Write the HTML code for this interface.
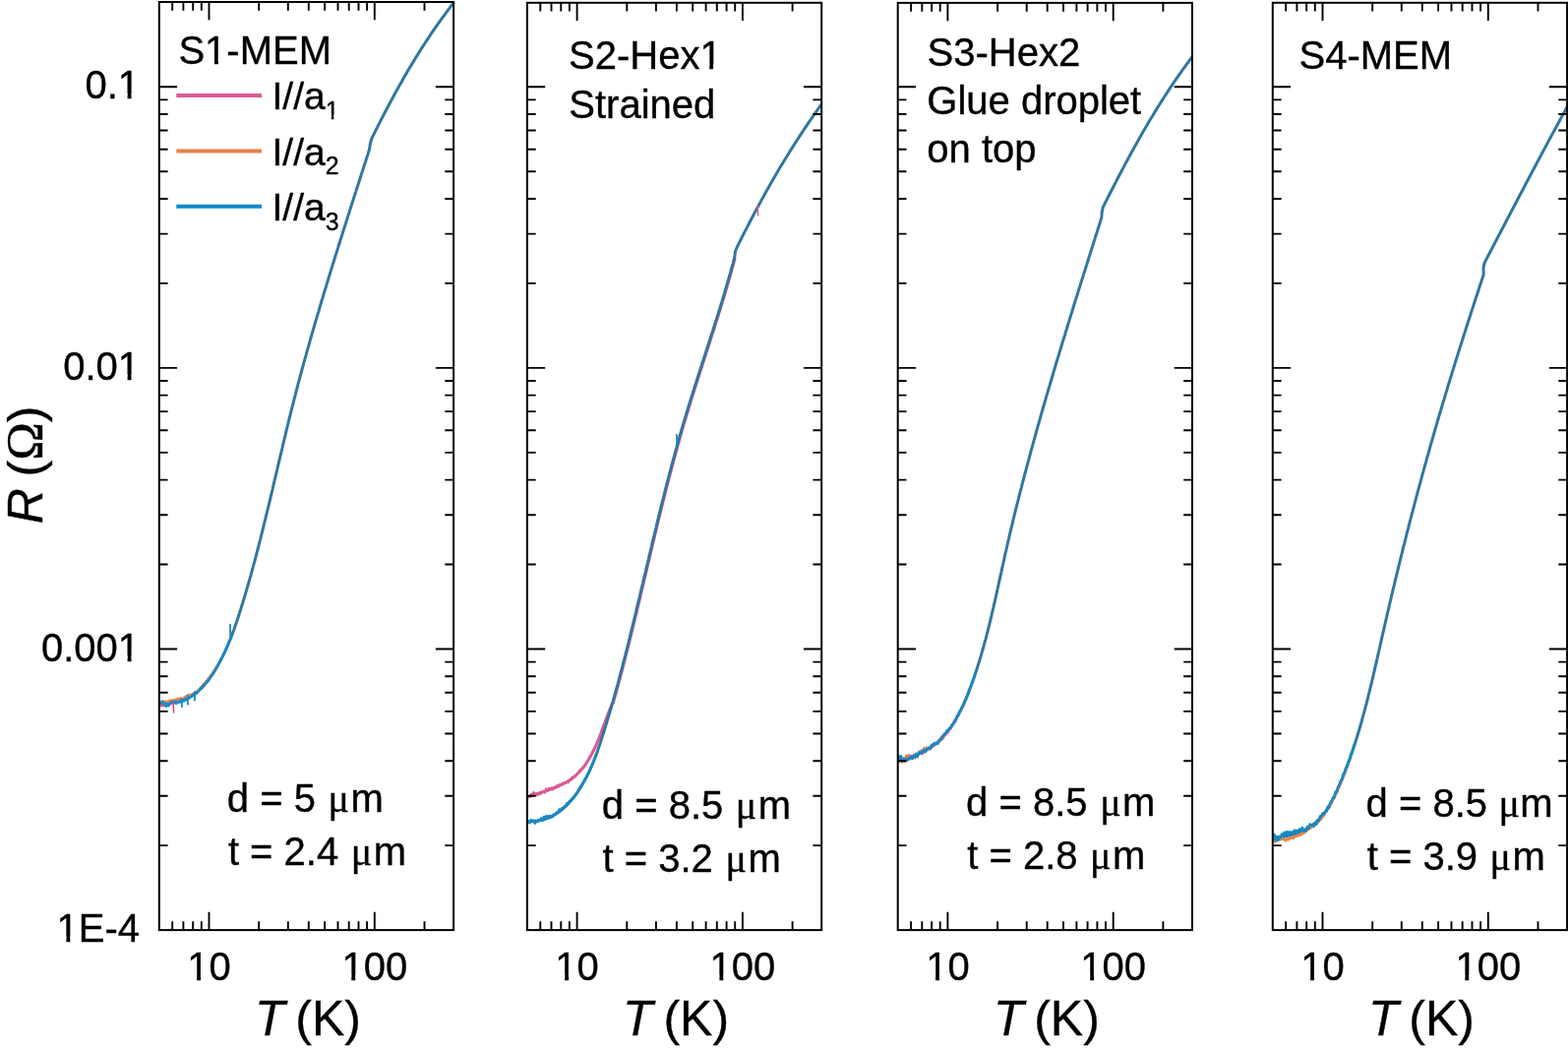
<!DOCTYPE html><html><head><meta charset="utf-8"><style>html,body{margin:0;padding:0;background:#fff;overflow:hidden}svg{display:block}text{font-family:"Liberation Sans",Arial,sans-serif;fill:#000;stroke:#000;stroke-width:0.35px}.sf{font-family:"Liberation Serif","Times New Roman",serif}</style></head><body>
<svg width="1594" height="1069" viewBox="0 0 1594 1069">
<rect width="1594" height="1069" fill="#fff"/>
<defs><clipPath id="c0"><rect x="161.8" y="2.3" width="299.3" height="942.8"/></clipPath><clipPath id="c1"><rect x="535.9" y="2.3" width="299.3" height="942.8"/></clipPath><clipPath id="c2"><rect x="912.7" y="2.3" width="299.3" height="942.8"/></clipPath><clipPath id="c3"><rect x="1293.8" y="2.3" width="299.3" height="942.8"/></clipPath></defs>
<g fill="none" stroke-linejoin="round" stroke-linecap="round">
<g clip-path="url(#c0)">
<path d="M161.7 715.3L164.2 715.3L166.6 715.1L169.2 714.9L171.7 714.7L174.3 714.3L176.8 713.8L179.4 713.3L181.9 712.6L184.3 711.9L186.8 711.0L189.1 710.1L191.4 709.0L193.6 707.9L195.8 706.6L197.8 705.2L199.8 703.7L201.7 702.2L203.5 700.5L205.3 698.8L206.9 697.0L208.6 695.1L210.2 693.2L211.7 691.3L213.2 689.2L214.6 687.2L216.0 685.1L217.3 683.0L218.7 680.9L219.9 678.8L221.2 676.6L222.4 674.4L223.6 672.3L224.8 670.0L225.9 667.8L227.0 665.6L228.1 663.3L229.2 661.1L230.2 658.8L231.2 656.5L232.2 654.2L233.1 651.9L234.1 649.6L235.0 647.2L235.9 644.9L236.8 642.5L237.7 640.2L238.5 637.8L239.3 635.4L240.2 633.0L241.0 630.6L241.8 628.2L242.6 625.8L243.3 623.4L244.1 621.0L244.9 618.6L245.6 616.2L246.4 613.8L247.1 611.4L247.8 609.0L248.6 606.6L249.3 604.1L250.0 601.7L250.7 599.3L251.4 596.9L252.1 594.5L252.8 592.0L253.5 589.6L254.2 587.2L254.9 584.8L255.5 582.3L256.2 579.9L256.9 577.5L257.5 575.1L258.2 572.6L258.9 570.2L259.5 567.8L260.2 565.3L260.8 562.9L261.4 560.5L262.1 558.0L262.7 555.6L263.3 553.2L263.9 550.7L264.6 548.3L265.2 545.9L265.8 543.4L266.4 541.0L267.0 538.5L267.6 536.1L268.2 533.7L268.8 531.2L269.4 528.8L270.0 526.3L270.6 523.9L271.2 521.5L271.8 519.0L272.4 516.6L273.0 514.1L273.6 511.7L274.2 509.2L274.7 506.8L275.3 504.4L275.9 501.9L276.5 499.5L277.1 497.0L277.6 494.6L278.2 492.1L278.8 489.7L279.4 487.2L279.9 484.8L280.5 482.3L281.1 479.9L281.7 477.5L282.2 475.0L282.8 472.6L283.4 470.1L284.0 467.7L284.5 465.2L285.1 462.8L285.7 460.3L286.3 457.9L286.9 455.5L287.4 453.0L288.0 450.6L288.6 448.1L289.2 445.7L289.8 443.2L290.4 440.8L290.9 438.4L291.5 435.9L292.1 433.5L292.7 431.0L293.3 428.6L293.9 426.2L294.5 423.7L295.1 421.3L295.7 418.9L296.3 416.4L297.0 414.0L297.6 411.5L298.2 409.1L298.8 406.7L299.4 404.2L300.1 401.8L300.7 399.4L301.3 396.9L302.0 394.5L302.6 392.1L303.2 389.7L303.9 387.2L304.5 384.8L305.2 382.4L305.8 379.9L306.5 377.5L307.1 375.1L307.8 372.7L308.5 370.2L309.1 367.8L309.8 365.4L310.5 363.0L311.2 360.6L311.8 358.1L312.5 355.7L313.2 353.3L313.9 350.9L314.6 348.5L315.2 346.0L315.9 343.6L316.6 341.2L317.3 338.8L318.0 336.4L318.7 334.0L319.4 331.5L320.1 329.1L320.8 326.7L321.5 324.3L322.2 321.9L322.9 319.5L323.7 317.1L324.4 314.7L325.1 312.2L325.8 309.8L326.5 307.4L327.2 305.0L328.0 302.6L328.7 300.2L329.4 297.8L330.1 295.4L330.9 293.0L331.6 290.6L332.3 288.2L333.1 285.8L333.8 283.4L334.5 281.0L335.3 278.5L336.0 276.1L336.8 273.7L337.5 271.3L338.2 268.9L339.0 266.5L339.7 264.1L340.5 261.7L341.2 259.3L342.0 256.9L342.7 254.5L343.5 252.1L344.2 249.7L345.0 247.3L345.7 244.9L346.5 242.5L347.3 240.1L348.0 237.7L348.8 235.3L349.5 232.9L350.3 230.5L351.1 228.1L351.8 225.8L352.6 223.4L353.3 221.0L354.1 218.6L354.9 216.2L355.6 213.8L356.4 211.4L357.2 209.0L357.9 206.6L358.7 204.2L359.5 201.8L360.2 199.4L361.0 197.0L361.8 194.6L362.5 192.2L363.3 189.8L364.1 187.5L364.8 185.1L365.6 182.7L366.4 180.3L367.1 177.9L367.9 175.5L368.7 173.1L369.5 170.7L370.2 168.3L371.0 165.9L371.8 163.5L372.5 161.2L373.3 158.8L374.1 156.4L374.8 154.0L375.6 151.6L376.4 145.6L378.0 140.5L379.1 138.2L380.3 135.9L381.4 133.7L382.5 131.4L383.7 129.1L384.8 126.8L386.0 124.6L387.1 122.3L388.3 120.0L389.5 117.8L390.6 115.5L391.8 113.3L393.0 111.0L394.2 108.7L395.4 106.5L396.6 104.3L397.8 102.0L399.0 99.8L400.2 97.5L401.4 95.3L402.6 93.1L403.9 90.8L405.1 88.6L406.3 86.4L407.6 84.2L408.9 82.0L410.1 79.7L411.4 77.5L412.7 75.3L413.9 73.1L415.2 70.9L416.5 68.7L417.8 66.6L419.2 64.4L420.5 62.2L421.8 60.0L423.1 57.9L424.5 55.7L425.8 53.5L427.2 51.4L428.5 49.2L429.9 47.1L431.3 45.0L432.7 42.8L434.1 40.7L435.5 38.6L436.9 36.5L438.3 34.3L439.7 32.2L441.2 30.1L442.6 28.0L444.1 26.0L445.5 23.9L447.0 21.8L448.5 19.7L450.0 17.7L451.5 15.6L453.0 13.6L454.5 11.5L456.1 9.5L457.6 7.4L459.1 5.4L460.7 3.4" stroke="#32769c" stroke-width="3.0"/>
<path d="M161.0 713.4L162.3 712.6L163.6 713.6L164.9 712.2L166.2 714.0L167.5 712.2L168.8 713.5L170.1 712.7L171.4 713.1L172.7 711.3L174.0 712.6L175.3 711.1L176.6 712.0L177.9 710.7L179.2 711.8L180.5 709.6L181.8 710.4L183.1 709.3L184.4 710.8L185.7 709.5L187.0 709.3L188.3 707.7L189.6 707.9L190.9 706.0L192.2 706.8L193.5 705.4L194.8 706.4L196.1 704.6L197.4 704.4L198.7 703.1L200.0 702.6L201.3 701.1L202.6 700.7L203.9 698.2L205.2 697.3L206.5 695.3L207.8 694.5L209.1 692.6L210.4 691.4L211.7 689.3L213.0 688.0L214.3 685.9L215.6 684.3L216.9 682.1L218.2 680.6L219.5 678.1L220.8 676.4" stroke="#e8804a" stroke-width="2.2"/>
<path d="M161.0 716.6L162.3 715.7L163.6 717.4L164.9 716.6L166.2 717.7L167.5 715.6L168.8 717.2L170.1 715.5L171.4 716.3L172.7 715.0L174.0 715.5L175.3 714.6L176.6 715.0L177.9 714.4L179.2 714.7L180.5 713.3L181.8 713.9L183.1 712.6L184.4 713.0L185.7 712.0L187.0 712.0L188.3 710.8L189.6 711.1L190.9 709.8L192.2 709.3L193.5 708.1L194.8 707.7L196.1 706.6L197.4 706.2L198.7 705.0" stroke="#dc5a96" stroke-width="2.0"/>
<path d="M161.0 714.9L162.3 713.7L163.6 714.8L164.9 712.7L166.2 715.3L167.5 714.4L168.8 717.9L170.1 715.0L171.4 717.3L172.7 713.9L174.0 714.2L175.3 712.9L176.6 713.8L177.9 712.8L179.2 715.0L180.5 713.2L181.8 713.6L183.1 712.7L184.4 713.9L185.7 711.1L187.0 712.6L188.3 710.3L189.6 711.4L190.9 709.4L192.2 709.7L193.5 708.2L194.8 707.7L196.1 705.7L197.4 706.6L198.7 704.1L200.0 704.6L201.3 702.7L202.6 701.3L203.9 699.5L205.2 698.6L206.5 696.5L207.8 696.3L209.1 693.6L210.4 693.1L211.7 691.1L213.0 689.8L214.3 687.1L215.6 686.3L216.9 683.9L218.2 682.4L219.5 679.5L220.8 678.0L222.1 674.9L223.4 673.0L224.7 670.0L226.0 667.8L227.3 664.8L228.6 662.6L229.9 659.0L231.2 656.5L232.5 653.0L233.8 650.3L235.1 646.7" stroke="#1689c6" stroke-width="2.4"/>
<path d="M234.2 646.5L234.0 634.6" stroke="#1689c6" stroke-width="1.8"/>
<path d="M176.2 714L176.6 724" stroke="#d0508a" stroke-width="1.6"/>
<path d="M184.6 710.5L184.9 718.3M190.6 707L190.9 715.7M197.8 703L198 711.6" stroke="#1689c6" stroke-width="1.8"/>
</g>
<g clip-path="url(#c1)">
<path d="M623.7 714.2L624.4 711.7L625.0 709.3L625.7 706.9L626.4 704.5L627.1 702.0L627.7 699.6L628.4 697.2L629.1 694.8L629.7 692.3L630.4 689.9L631.0 687.5L631.7 685.0L632.3 682.6L633.0 680.2L633.6 677.8L634.2 675.3L634.8 672.9L635.5 670.5L636.1 668.0L636.7 665.6L637.3 663.1L638.0 660.7L638.6 658.3L639.2 655.8L639.8 653.4L640.4 651.0L641.0 648.5L641.6 646.1L642.2 643.6L642.8 641.2L643.4 638.8L644.0 636.3L644.6 633.9L645.2 631.4L645.8 629.0L646.4 626.5L647.0 624.1L647.6 621.6L648.1 619.2L648.7 616.8L649.3 614.3L649.9 611.9L650.5 609.4L651.1 607.0L651.6 604.5L652.2 602.1L652.8 599.6L653.4 597.2L654.0 594.7L654.6 592.3L655.1 589.8L655.7 587.4L656.3 584.9L656.9 582.5L657.5 580.0L658.0 577.6L658.6 575.1L659.2 572.7L659.8 570.2L660.4 567.8L660.9 565.4L661.5 562.9L662.1 560.5L662.7 558.0L663.3 555.6L663.8 553.1L664.4 550.7L665.0 548.2L665.6 545.8L666.2 543.3L666.8 540.9L667.4 538.4L668.0 536.0L668.5 533.5L669.1 531.1L669.7 528.7L670.3 526.2L670.9 523.8L671.5 521.3L672.1 518.9L672.7 516.4L673.3 514.0L673.9 511.6L674.5 509.1L675.2 506.7L675.8 504.2L676.4 501.8L677.0 499.4L677.6 496.9L678.2 494.5L678.9 492.0L679.5 489.6L680.1 487.2L680.8 484.7L681.4 482.3L682.0 479.9L682.7 477.4L683.3 475.0L683.9 472.6L684.6 470.1L685.2 467.7L685.9 465.3L686.6 462.9L687.2 460.4L687.9 458.0L688.6 455.6L689.2 453.2L689.9 450.7L690.6 448.3L691.3 445.9L691.9 443.5L692.6 441.1L693.3 438.7L694.0 436.2L694.7 433.8L695.4 431.4L696.1 429.0L696.9 426.6L697.6 424.2L698.3 421.8L699.0 419.4L699.8 417.0L700.5 414.6L701.2 412.2L702.0 409.8L702.7 407.3L703.5 404.9L704.2 402.5L705.0 400.2L705.7 397.8L706.5 395.4L707.2 393.0L708.0 390.6L708.8 388.2L709.5 385.8L710.3 383.4L711.1 381.0L711.8 378.6L712.6 376.2L713.4 373.8L714.2 371.4L714.9 369.0L715.7 366.6L716.5 364.2L717.3 361.8L718.0 359.4L718.8 357.1L719.6 354.7L720.4 352.3L721.1 349.9L721.9 347.5L722.7 345.1L723.4 342.7L724.2 340.3L725.0 337.9L725.8 335.5L726.5 333.1L727.3 330.7L728.0 328.3L728.8 325.9L729.6 323.5L730.3 321.1L731.1 318.7L731.8 316.3L732.6 313.9L733.3 311.5L734.0 309.1L734.8 306.7L735.5 304.3L736.2 301.9L737.0 299.5L737.7 297.1L738.4 294.7L739.1 292.3L739.8 289.9L740.5 287.5L741.2 285.0L741.9 282.6L742.6 280.2L743.3 277.8L744.0 275.4L744.6 272.9L745.3 270.5L746.0 268.1L746.6 265.7L747.3 263.2" stroke="#dc5a96" stroke-width="2.4"/>
<path d="M536.0 810.1L538.1 809.3L540.2 808.5L542.4 807.8L544.6 807.0L546.9 806.3L549.3 805.5L551.7 804.7L554.1 803.9L556.5 803.1L558.9 802.3L561.3 801.4L563.7 800.5L566.1 799.5L568.5 798.5L570.8 797.4L573.1 796.3L575.3 795.1L577.5 793.8L579.6 792.5L581.6 791.0L583.5 789.5L585.4 787.9L587.2 786.2L588.9 784.5L590.5 782.7L592.1 780.8L593.6 778.8L595.1 776.8L596.5 774.8L597.8 772.7L599.1 770.5L600.4 768.3L601.6 766.1L602.8 763.8L603.9 761.5L605.0 759.2L606.1 756.8L607.1 754.4L608.1 752.0L609.1 749.6L610.0 747.2L611.0 744.7L611.9 742.3L612.8 739.8L613.7 737.4L614.6 735.0L615.5 732.5L616.4 730.1L617.3 727.7L618.2 725.3L619.1 723.0L620.0 720.6L621.0 718.3L621.9 716.0L622.9 713.8" stroke="#dc5a96" stroke-width="3.0"/>
<path d="M536.0 811.4L537.3 809.2L538.6 809.7L539.9 806.8L541.2 807.8L542.5 805.0L543.8 808.4L545.1 806.4L546.4 808.3L547.7 806.0L549.0 807.3L550.3 805.4L551.6 805.4L552.9 803.9L554.2 805.7L555.5 801.4L556.8 803.8L558.1 800.9L559.4 802.3L560.7 800.4L562.0 802.5L563.3 800.0L564.6 800.9L565.9 798.2L567.2 799.1L568.5 797.2L569.8 797.4L571.1 796.3L572.4 796.3L573.7 795.0L575.0 795.6L576.3 793.9L577.6 795.3L578.9 792.7L580.2 792.8L581.5 789.7L582.8 790.3L584.1 788.9L585.4 788.4L586.7 786.0L588.0 785.4L589.3 782.6L590.6 782.5L591.9 780.1L593.2 780.3L594.5 777.7L595.8 776.4L597.1 773.9L598.4 771.8L599.7 768.7L601.0 767.6L602.3 764.1L603.6 762.4" stroke="#dc5a96" stroke-width="2.2"/>
<path d="M536.0 834.8L538.4 834.6L540.8 834.5L543.2 834.3L545.6 834.1L547.9 833.7L550.3 833.3L552.6 832.7L555.0 832.0L557.3 831.1L559.6 830.1L561.8 829.0L564.0 827.8L566.1 826.5L568.1 825.1L570.1 823.6L572.1 822.0L573.9 820.3L575.8 818.6L577.5 816.8L579.2 815.0L580.9 813.1L582.5 811.1L584.0 809.2L585.5 807.1L587.0 805.1L588.4 803.0L589.8 800.9L591.1 798.8L592.4 796.6L593.6 794.4L594.8 792.2L596.0 790.0L597.1 787.8L598.2 785.5L599.3 783.3L600.3 781.0L601.3 778.7L602.3 776.4L603.3 774.1L604.2 771.7L605.1 769.4L606.0 767.0L606.9 764.7L607.7 762.3L608.5 759.9L609.4 757.5L610.2 755.1L610.9 752.7L611.7 750.3L612.5 747.9L613.3 745.5L614.0 743.1L614.8 740.7L615.5 738.3L616.3 735.9L617.0 733.5L617.7 731.1L618.4 728.7L619.2 726.2L619.9 723.8L620.6 721.4L621.3 719.0L622.0 716.6L622.7 714.2L623.4 711.7L624.0 709.3L624.7 706.9L625.4 704.5L626.1 702.0L626.7 699.6L627.4 697.2L628.1 694.8L628.7 692.3L629.4 689.9L630.0 687.5L630.7 685.0L631.3 682.6L632.0 680.2L632.6 677.8L633.2 675.3L633.8 672.9L634.5 670.5L635.1 668.0L635.7 665.6L636.3 663.1L637.0 660.7L637.6 658.3L638.2 655.8L638.8 653.4L639.4 651.0L640.0 648.5L640.6 646.1L641.2 643.6L641.8 641.2L642.4 638.8L643.0 636.3L643.6 633.9L644.2 631.4L644.8 629.0L645.4 626.5L646.0 624.1L646.6 621.6L647.1 619.2L647.7 616.8L648.3 614.3L648.9 611.9L649.5 609.4L650.1 607.0L650.6 604.5L651.2 602.1L651.8 599.6L652.4 597.2L653.0 594.7L653.6 592.3L654.1 589.8L654.7 587.4L655.3 584.9L655.9 582.5L656.5 580.0L657.0 577.6L657.6 575.1L658.2 572.7L658.8 570.2L659.4 567.8L659.9 565.4L660.5 562.9L661.1 560.5L661.7 558.0L662.3 555.6L662.8 553.1L663.4 550.7L664.0 548.2L664.6 545.8L665.2 543.3L665.8 540.9L666.4 538.4L667.0 536.0L667.5 533.5L668.1 531.1L668.7 528.7L669.3 526.2L669.9 523.8L670.5 521.3L671.1 518.9L671.7 516.4L672.3 514.0L672.9 511.6L673.5 509.1L674.2 506.7L674.8 504.2L675.4 501.8L676.0 499.4L676.6 496.9L677.2 494.5L677.9 492.0L678.5 489.6L679.1 487.2L679.8 484.7L680.4 482.3L681.0 479.9L681.7 477.4L682.3 475.0L682.9 472.6L683.6 470.1L684.2 467.7L684.9 465.3L685.6 462.9L686.2 460.4L686.9 458.0L687.6 455.6L688.2 453.2L688.9 450.7L689.6 448.3L690.3 445.9L690.9 443.5L691.6 441.1L692.3 438.7L693.0 436.2L693.7 433.8L694.4 431.4L695.1 429.0L695.9 426.6L696.6 424.2L697.3 421.8L698.0 419.4L698.8 417.0L699.5 414.6L700.2 412.2L701.0 409.8L701.7 407.3L702.5 404.9L703.2 402.5L704.0 400.2L704.7 397.8L705.5 395.4L706.2 393.0L707.0 390.6L707.8 388.2L708.5 385.8L709.3 383.4L710.1 381.0L710.8 378.6L711.6 376.2L712.4 373.8L713.2 371.4L713.9 369.0L714.7 366.6L715.5 364.2L716.3 361.8L717.0 359.4L717.8 357.1L718.6 354.7L719.4 352.3L720.1 349.9L720.9 347.5L721.7 345.1L722.4 342.7L723.2 340.3L724.0 337.9L724.8 335.5L725.5 333.1L726.3 330.7L727.0 328.3L727.8 325.9L728.6 323.5L729.3 321.1L730.1 318.7L730.8 316.3L731.6 313.9L732.3 311.5L733.0 309.1L733.8 306.7L734.5 304.3L735.2 301.9L736.0 299.5L736.7 297.1L737.4 294.7L738.1 292.3L738.8 289.9L739.5 287.5L740.2 285.0L740.9 282.6L741.6 280.2L742.3 277.8L743.0 275.4L743.6 272.9L744.3 270.5L745.0 268.1L745.6 265.7L746.3 263.2L746.9 260.8L747.4 255.6L749.0 251.7L750.1 249.4L751.3 247.1L752.4 244.8L753.6 242.5L754.7 240.2L755.9 237.9L757.0 235.6L758.2 233.4L759.4 231.1L760.6 228.8L761.7 226.5L762.9 224.2L764.1 222.0L765.3 219.7L766.5 217.4L767.7 215.2L768.9 212.9L770.1 210.7L771.3 208.4L772.6 206.2L773.8 203.9L775.0 201.7L776.3 199.4L777.5 197.2L778.7 194.9L780.0 192.7L781.3 190.5L782.5 188.2L783.8 186.0L785.1 183.8L786.3 181.6L787.6 179.4L788.9 177.2L790.2 174.9L791.5 172.7L792.8 170.5L794.1 168.3L795.5 166.1L796.8 164.0L798.1 161.8L799.5 159.6L800.8 157.4L802.1 155.2L803.5 153.0L804.9 150.9L806.2 148.7L807.6 146.5L809.0 144.4L810.4 142.2L811.8 140.1L813.2 137.9L814.6 135.8L816.0 133.7L817.4 131.5L818.8 129.4L820.2 127.3L821.7 125.1L823.1 123.0L824.6 120.9L826.0 118.8L827.5 116.7L829.0 114.6L830.4 112.5L831.9 110.4L833.4 108.3L834.9 106.2" stroke="#32769c" stroke-width="3.0"/>
<path d="M536.0 836.4L537.3 834.5L538.6 836.2L539.9 833.0L541.2 834.7L542.5 833.6L543.8 836.8L545.1 834.1L546.4 835.3L547.7 832.9L549.0 834.2L550.3 831.3L551.6 833.9L552.9 830.0L554.2 832.1L555.5 828.9L556.8 831.6L558.1 828.9L559.4 831.1L560.7 828.7L562.0 830.2L563.3 827.2L564.6 827.7L565.9 825.4L567.2 825.6L568.5 822.4L569.8 823.4L571.1 821.1L572.4 821.3L573.7 819.3L575.0 819.6L576.3 816.3L577.6 816.9L578.9 814.0L580.2 814.1L581.5 811.2L582.8 811.2L584.1 809.1L585.4 807.4L586.7 805.3L588.0 803.8L589.3 800.2L590.6 799.6L591.9 796.3L593.2 794.9L594.5 791.8L595.8 790.5L597.1 787.5L598.4 785.8L599.7 782.0L601.0 779.4L602.3 776.0L603.6 773.2L604.9 769.9" stroke="#1689c6" stroke-width="2.4"/>
<path d="M688.3 453L687.9 442" stroke="#1f7fc0" stroke-width="1.8"/>
<path d="M770.2 209.5L770.6 219" stroke="#d85a9a" stroke-width="1.5"/>
</g>
<g clip-path="url(#c2)">
<path d="M913.3 771.7L915.9 771.3L918.5 770.9L921.1 770.4L923.6 769.8L926.1 769.1L928.5 768.3L930.9 767.4L933.3 766.5L935.6 765.4L937.9 764.4L940.1 763.2L942.2 762.0L944.3 760.7L946.4 759.3L948.4 757.8L950.4 756.4L952.3 754.8L954.1 753.2L955.9 751.5L957.6 749.8L959.3 748.0L960.9 746.2L962.5 744.3L964.0 742.4L965.5 740.5L966.9 738.5L968.3 736.4L969.7 734.3L971.0 732.2L972.2 730.1L973.4 727.9L974.6 725.7L975.8 723.5L976.9 721.2L978.0 719.0L979.1 716.7L980.1 714.4L981.1 712.0L982.1 709.7L983.1 707.4L984.0 705.0L984.9 702.6L985.8 700.3L986.7 697.9L987.6 695.5L988.5 693.1L989.3 690.7L990.2 688.4L991.0 686.0L991.8 683.6L992.6 681.2L993.4 678.8L994.1 676.4L994.9 674.0L995.6 671.6L996.4 669.2L997.1 666.8L997.8 664.3L998.5 661.9L999.2 659.5L999.9 657.1L1000.5 654.7L1001.2 652.2L1001.9 649.8L1002.5 647.4L1003.1 644.9L1003.8 642.5L1004.4 640.1L1005.0 637.6L1005.6 635.2L1006.2 632.8L1006.8 630.3L1007.4 627.9L1008.0 625.4L1008.5 623.0L1009.1 620.5L1009.7 618.1L1010.2 615.7L1010.8 613.2L1011.4 610.8L1011.9 608.3L1012.5 605.9L1013.0 603.4L1013.5 600.9L1014.1 598.5L1014.6 596.0L1015.2 593.6L1015.7 591.1L1016.2 588.7L1016.8 586.2L1017.3 583.8L1017.9 581.3L1018.4 578.9L1018.9 576.4L1019.5 574.0L1020.0 571.5L1020.6 569.1L1021.1 566.6L1021.6 564.2L1022.2 561.7L1022.8 559.3L1023.3 556.8L1023.9 554.4L1024.4 551.9L1025.0 549.5L1025.6 547.0L1026.1 544.6L1026.7 542.1L1027.3 539.7L1027.9 537.2L1028.5 534.8L1029.1 532.4L1029.6 529.9L1030.2 527.5L1030.8 525.0L1031.4 522.6L1032.0 520.1L1032.6 517.7L1033.2 515.3L1033.8 512.8L1034.5 510.4L1035.1 508.0L1035.7 505.5L1036.3 503.1L1036.9 500.7L1037.5 498.2L1038.2 495.8L1038.8 493.4L1039.4 490.9L1040.1 488.5L1040.7 486.1L1041.3 483.6L1042.0 481.2L1042.6 478.8L1043.3 476.3L1043.9 473.9L1044.6 471.5L1045.2 469.1L1045.9 466.6L1046.5 464.2L1047.2 461.8L1047.8 459.3L1048.5 456.9L1049.2 454.5L1049.8 452.1L1050.5 449.7L1051.2 447.2L1051.8 444.8L1052.5 442.4L1053.2 440.0L1053.9 437.5L1054.5 435.1L1055.2 432.7L1055.9 430.3L1056.6 427.9L1057.3 425.4L1058.0 423.0L1058.6 420.6L1059.3 418.2L1060.0 415.8L1060.7 413.4L1061.4 410.9L1062.1 408.5L1062.8 406.1L1063.5 403.7L1064.2 401.3L1064.9 398.9L1065.6 396.5L1066.3 394.0L1067.1 391.6L1067.8 389.2L1068.5 386.8L1069.2 384.4L1069.9 382.0L1070.6 379.6L1071.3 377.2L1072.1 374.8L1072.8 372.4L1073.5 369.9L1074.2 367.5L1074.9 365.1L1075.7 362.7L1076.4 360.3L1077.1 357.9L1077.9 355.5L1078.6 353.1L1079.3 350.7L1080.0 348.3L1080.8 345.9L1081.5 343.5L1082.3 341.1L1083.0 338.7L1083.7 336.3L1084.5 333.9L1085.2 331.5L1085.9 329.1L1086.7 326.6L1087.4 324.2L1088.2 321.8L1088.9 319.4L1089.7 317.0L1090.4 314.6L1091.1 312.2L1091.9 309.8L1092.6 307.4L1093.4 305.0L1094.1 302.6L1094.9 300.2L1095.6 297.8L1096.4 295.4L1097.1 293.0L1097.9 290.6L1098.6 288.3L1099.4 285.9L1100.1 283.5L1100.9 281.1L1101.6 278.7L1102.4 276.3L1103.2 273.9L1103.9 271.5L1104.7 269.1L1105.4 266.7L1106.2 264.3L1106.9 261.9L1107.7 259.5L1108.4 257.1L1109.2 254.7L1110.0 252.3L1110.7 249.9L1111.5 247.5L1112.2 245.1L1113.0 242.7L1113.7 240.3L1114.5 238.0L1115.3 235.6L1116.0 233.2L1116.8 230.8L1117.5 228.4L1118.3 226.0L1119.0 223.6L1119.8 221.2L1120.3 215.0L1121.4 210.3L1122.6 208.0L1123.7 205.7L1124.9 203.4L1126.0 201.1L1127.2 198.8L1128.4 196.5L1129.6 194.2L1130.7 192.0L1131.9 189.7L1133.1 187.4L1134.3 185.1L1135.4 182.8L1136.6 180.5L1137.8 178.2L1139.0 176.0L1140.2 173.7L1141.4 171.4L1142.6 169.1L1143.8 166.9L1145.1 164.6L1146.3 162.3L1147.5 160.1L1148.7 157.8L1149.9 155.6L1151.2 153.3L1152.4 151.1L1153.7 148.8L1154.9 146.6L1156.2 144.3L1157.4 142.1L1158.7 139.8L1160.0 137.6L1161.2 135.4L1162.5 133.1L1163.8 130.9L1165.1 128.7L1166.4 126.5L1167.7 124.3L1169.0 122.1L1170.3 119.9L1171.7 117.7L1173.0 115.5L1174.3 113.3L1175.7 111.1L1177.0 108.9L1178.4 106.7L1179.8 104.5L1181.1 102.4L1182.5 100.2L1183.9 98.0L1185.3 95.9L1186.7 93.7L1188.1 91.6L1189.5 89.4L1190.9 87.3L1192.4 85.2L1193.8 83.0L1195.3 80.9L1196.7 78.8L1198.2 76.7L1199.7 74.6L1201.2 72.5L1202.6 70.4L1204.2 68.3L1205.7 66.2L1207.2 64.1L1208.7 62.0L1210.3 60.0L1211.8 57.9" stroke="#32769c" stroke-width="3.0"/>
<path d="M912.0 772.8L913.3 769.6L914.6 774.3L915.9 770.1L917.2 774.8L918.5 770.1L919.8 773.5L921.1 767.4L922.4 770.1L923.7 766.8L925.0 768.5L926.3 767.7L927.6 771.2L928.9 768.3L930.2 770.6L931.5 766.5L932.8 769.8L934.1 763.5L935.4 765.3L936.7 761.9L938.0 764.1L939.3 759.8L940.6 762.0L941.9 759.1L943.2 761.4L944.5 760.2L945.8 761.5L947.1 757.9L948.4 759.1L949.7 755.6L951.0 757.1L952.3 754.7L953.6 754.6L954.9 750.7L956.2 751.0L957.5 748.2L958.8 748.6L960.1 747.2L961.4 746.3L962.7 743.8L964.0 744.0L965.3 740.7L966.6 740.3L967.9 737.1L969.2 736.0L970.5 731.9L971.8 731.7L973.1 728.2L974.4 726.9L975.7 723.7L977.0 721.3L978.3 717.3L979.6 715.6L980.9 711.4L982.2 709.6L983.5 705.8L984.8 703.6" stroke="#e8804a" stroke-width="2.0"/>
<path d="M912.0 773.2L913.3 769.9L914.6 772.1L915.9 771.8L917.2 774.6L918.5 771.4L919.8 774.1L921.1 770.3L922.4 773.5L923.7 769.2L925.0 770.8L926.3 768.1L927.6 770.6L928.9 766.5L930.2 768.5L931.5 766.0L932.8 766.9L934.1 763.8L935.4 766.3L936.7 763.8L938.0 766.4L939.3 762.7L940.6 763.7L941.9 760.9L943.2 761.9L944.5 759.6L945.8 760.0L947.1 757.3L948.4 758.5L949.7 755.6L951.0 756.9L952.3 753.8L953.6 754.7L954.9 753.2L956.2 752.3L957.5 750.6L958.8 750.9L960.1 746.9L961.4 746.8L962.7 743.9L964.0 744.5L965.3 740.6L966.6 740.8L967.9 737.4L969.2 736.0L970.5 734.0L971.8 733.2L973.1 728.8L974.4 727.8L975.7 723.8L977.0 721.9L978.3 718.8L979.6 717.2L980.9 713.4L982.2 711.2L983.5 706.8L984.8 704.2" stroke="#dc5a96" stroke-width="1.8"/>
<path d="M912.0 770.9L913.3 768.1L914.6 771.3L915.9 768.3L917.2 772.8L918.5 771.7L919.8 772.8L921.1 771.2L922.4 772.4L923.7 770.6L925.0 771.4L926.3 768.6L927.6 770.8L928.9 768.1L930.2 769.1L931.5 765.9L932.8 768.6L934.1 764.7L935.4 765.5L936.7 763.7L938.0 764.2L939.3 761.9L940.6 764.2L941.9 761.5L943.2 761.2L944.5 759.5L945.8 760.6L947.1 756.8L948.4 757.9L949.7 755.2L951.0 755.8L952.3 755.4L953.6 755.6L954.9 752.5L956.2 752.2L957.5 748.7L958.8 747.9L960.1 745.6L961.4 745.6L962.7 742.3L964.0 742.4L965.3 739.7L966.6 739.4L967.9 737.1L969.2 735.6L970.5 732.5L971.8 731.1L973.1 727.3L974.4 726.1L975.7 722.5L977.0 721.5L978.3 718.0L979.6 716.2L980.9 712.5L982.2 710.2L983.5 706.5L984.8 703.5L986.1 699.4L987.4 696.4L988.7 692.4L990.0 689.4L991.3 685.0" stroke="#1689c6" stroke-width="2.6"/>
</g>
<g clip-path="url(#c3)">
<path d="M1294.4 851.2L1297.0 851.1L1299.5 850.8L1302.1 850.5L1304.6 850.2L1307.1 849.7L1309.6 849.2L1312.1 848.6L1314.5 847.9L1316.9 847.2L1319.3 846.3L1321.6 845.4L1323.9 844.4L1326.2 843.3L1328.4 842.1L1330.5 840.9L1332.6 839.5L1334.6 838.1L1336.5 836.6L1338.3 835.0L1340.1 833.3L1341.8 831.6L1343.5 829.7L1345.0 827.8L1346.5 825.9L1348.0 823.9L1349.4 821.8L1350.7 819.7L1352.0 817.5L1353.3 815.3L1354.5 813.1L1355.6 810.9L1356.8 808.6L1357.9 806.3L1359.0 804.0L1360.0 801.7L1361.0 799.4L1362.0 797.1L1363.0 794.7L1364.0 792.4L1365.0 790.1L1365.9 787.7L1366.8 785.3L1367.8 783.0L1368.7 780.6L1369.6 778.3L1370.4 775.9L1371.3 773.5L1372.2 771.2L1373.0 768.8L1373.8 766.4L1374.6 764.0L1375.4 761.6L1376.2 759.2L1377.0 756.8L1377.8 754.4L1378.5 752.0L1379.3 749.6L1380.0 747.2L1380.8 744.8L1381.5 742.4L1382.2 740.0L1382.9 737.6L1383.6 735.2L1384.3 732.8L1384.9 730.3L1385.6 727.9L1386.3 725.5L1386.9 723.1L1387.6 720.6L1388.2 718.2L1388.9 715.8L1389.5 713.3L1390.1 710.9L1390.7 708.5L1391.3 706.0L1391.9 703.6L1392.5 701.2L1393.1 698.7L1393.7 696.3L1394.3 693.8L1394.9 691.4L1395.5 688.9L1396.0 686.5L1396.6 684.0L1397.2 681.6L1397.7 679.1L1398.3 676.7L1398.9 674.2L1399.4 671.8L1400.0 669.3L1400.5 666.9L1401.1 664.4L1401.7 662.0L1402.2 659.5L1402.8 657.1L1403.3 654.6L1403.9 652.2L1404.4 649.7L1405.0 647.2L1405.5 644.8L1406.1 642.3L1406.7 639.9L1407.2 637.4L1407.8 635.0L1408.3 632.5L1408.9 630.1L1409.5 627.6L1410.0 625.2L1410.6 622.7L1411.2 620.3L1411.8 617.8L1412.3 615.4L1412.9 612.9L1413.5 610.5L1414.1 608.0L1414.6 605.6L1415.2 603.1L1415.8 600.7L1416.4 598.2L1417.0 595.8L1417.6 593.3L1418.1 590.9L1418.7 588.4L1419.3 586.0L1419.9 583.6L1420.5 581.1L1421.1 578.7L1421.7 576.2L1422.3 573.8L1422.9 571.3L1423.5 568.9L1424.1 566.4L1424.7 564.0L1425.3 561.6L1425.9 559.1L1426.5 556.7L1427.1 554.2L1427.8 551.8L1428.4 549.4L1429.0 546.9L1429.6 544.5L1430.2 542.0L1430.8 539.6L1431.5 537.2L1432.1 534.7L1432.7 532.3L1433.3 529.8L1434.0 527.4L1434.6 525.0L1435.2 522.5L1435.9 520.1L1436.5 517.7L1437.2 515.2L1437.8 512.8L1438.4 510.4L1439.1 507.9L1439.7 505.5L1440.4 503.1L1441.0 500.6L1441.7 498.2L1442.3 495.8L1443.0 493.3L1443.7 490.9L1444.3 488.5L1445.0 486.1L1445.6 483.6L1446.3 481.2L1447.0 478.8L1447.6 476.3L1448.3 473.9L1449.0 471.5L1449.7 469.1L1450.3 466.6L1451.0 464.2L1451.7 461.8L1452.4 459.4L1453.1 457.0L1453.7 454.5L1454.4 452.1L1455.1 449.7L1455.8 447.3L1456.5 444.8L1457.2 442.4L1457.9 440.0L1458.6 437.6L1459.3 435.2L1460.0 432.8L1460.7 430.3L1461.4 427.9L1462.1 425.5L1462.8 423.1L1463.5 420.7L1464.3 418.3L1465.0 415.9L1465.7 413.4L1466.4 411.0L1467.1 408.6L1467.9 406.2L1468.6 403.8L1469.3 401.4L1470.0 399.0L1470.8 396.6L1471.5 394.2L1472.2 391.8L1473.0 389.3L1473.7 386.9L1474.4 384.5L1475.2 382.1L1475.9 379.7L1476.6 377.3L1477.4 374.9L1478.1 372.5L1478.9 370.1L1479.6 367.7L1480.4 365.3L1481.1 362.9L1481.9 360.5L1482.6 358.1L1483.4 355.7L1484.1 353.3L1484.9 350.9L1485.7 348.5L1486.4 346.1L1487.2 343.7L1487.9 341.3L1488.7 338.9L1489.5 336.5L1490.2 334.1L1491.0 331.7L1491.8 329.3L1492.5 326.9L1493.3 324.5L1494.1 322.1L1494.9 319.7L1495.6 317.3L1496.4 315.0L1497.2 312.6L1498.0 310.2L1498.8 307.8L1499.5 305.4L1500.3 303.0L1501.1 300.6L1501.9 298.2L1502.7 295.8L1503.5 293.4L1504.2 291.0L1505.0 288.7L1505.8 286.3L1506.6 283.9L1507.4 281.5L1508.2 279.1L1508.0 272.6L1509.0 267.3L1510.2 265.0L1511.4 262.8L1512.5 260.5L1513.7 258.3L1514.9 256.0L1516.1 253.8L1517.2 251.5L1518.4 249.3L1519.6 247.0L1520.8 244.8L1521.9 242.5L1523.1 240.2L1524.3 238.0L1525.5 235.7L1526.6 233.5L1527.8 231.2L1529.0 229.0L1530.2 226.7L1531.3 224.5L1532.5 222.2L1533.7 220.0L1534.9 217.7L1536.1 215.5L1537.2 213.2L1538.4 211.0L1539.6 208.7L1540.8 206.5L1542.0 204.2L1543.1 202.0L1544.3 199.7L1545.5 197.5L1546.7 195.2L1547.9 193.0L1549.1 190.7L1550.3 188.5L1551.4 186.2L1552.6 184.0L1553.8 181.8L1555.0 179.5L1556.2 177.3L1557.4 175.0L1558.6 172.8L1559.8 170.5L1561.0 168.3L1562.1 166.0L1563.3 163.8L1564.5 161.6L1565.7 159.3L1566.9 157.1L1568.1 154.8L1569.3 152.6L1570.5 150.4L1571.7 148.1L1572.9 145.9L1574.1 143.6L1575.3 141.4L1576.5 139.2L1577.7 136.9L1578.9 134.7L1580.2 132.5L1581.4 130.2L1582.6 128.0L1583.8 125.8L1585.0 123.5L1586.2 121.3L1587.4 119.1L1588.6 116.8L1589.9 114.6L1591.1 112.4L1592.3 110.1L1593.5 107.9" stroke="#32769c" stroke-width="3.0"/>
<path d="M1294.0 855.4L1295.3 853.7L1296.6 855.5L1297.9 854.2L1299.2 854.1L1300.5 852.2L1301.8 853.2L1303.1 851.4L1304.4 853.2L1305.7 852.7L1307.0 854.4L1308.3 852.3L1309.6 853.5L1310.9 851.5L1312.2 852.1L1313.5 850.9L1314.8 851.9L1316.1 849.7L1317.4 850.2L1318.7 848.6L1320.0 849.6L1321.3 847.2L1322.6 848.4L1323.9 845.7L1325.2 847.1L1326.5 844.8L1327.8 845.2L1329.1 842.8L1330.4 842.9L1331.7 841.2L1333.0 841.3L1334.3 838.9L1335.6 839.3L1336.9 837.8L1338.2 838.1L1339.5 835.4L1340.8 834.8L1342.1 833.1L1343.4 832.1L1344.7 829.6L1346.0 828.7L1347.3 825.6L1348.6 824.5L1349.9 822.3L1351.2 820.9L1352.5 817.6L1353.8 816.3L1355.1 812.6L1356.4 811.4L1357.7 807.6L1359.0 805.5L1360.3 801.5L1361.6 799.5L1362.9 795.7L1364.2 793.6L1365.5 789.6L1366.8 787.0L1368.1 783.1L1369.4 780.1L1370.7 776.4" stroke="#e8804a" stroke-width="2.4"/>
<path d="M1294.0 850.8L1295.3 847.9L1296.6 853.5L1297.9 850.1L1299.2 854.0L1300.5 850.1L1301.8 851.4L1303.1 847.5L1304.4 848.7L1305.7 845.8L1307.0 848.0L1308.3 845.0L1309.6 848.2L1310.9 845.4L1312.2 847.6L1313.5 845.4L1314.8 846.1L1316.1 843.6L1317.4 846.6L1318.7 843.8L1320.0 846.2L1321.3 842.5L1322.6 844.5L1323.9 841.0L1325.2 844.6L1326.5 843.9L1327.8 844.3L1329.1 839.9L1330.4 841.6L1331.7 837.5L1333.0 838.8L1334.3 838.4L1335.6 839.8L1336.9 836.3L1338.2 837.4L1339.5 833.4L1340.8 834.0L1342.1 829.4L1343.4 829.5L1344.7 826.5L1346.0 827.1L1347.3 825.1L1348.6 824.1L1349.9 819.5L1351.2 820.5L1352.5 815.5L1353.8 813.9L1355.1 810.6L1356.4 810.0L1357.7 804.5L1359.0 804.7L1360.3 799.3L1361.6 797.7L1362.9 793.6L1364.2 791.9L1365.5 786.8L1366.8 785.3L1368.1 780.4L1369.4 778.6L1370.7 774.1L1372.0 771.8L1373.3 766.2L1374.6 764.2L1375.9 759.1L1377.2 755.9" stroke="#1689c6" stroke-width="2.6"/>
</g>
</g>
<path d="M175.2 945.1v-8.8M175.2 2.0v8.8M186.4 945.1v-8.8M186.4 2.0v8.8M196.2 945.1v-8.8M196.2 2.0v8.8M204.8 945.1v-8.8M204.8 2.0v8.8M212.5 945.1v-18.3M212.5 2.0v18.3M263.2 945.1v-8.8M263.2 2.0v8.8M292.8 945.1v-8.8M292.8 2.0v8.8M313.8 945.1v-8.8M313.8 2.0v8.8M330.1 945.1v-8.8M330.1 2.0v8.8M343.5 945.1v-8.8M343.5 2.0v8.8M354.7 945.1v-8.8M354.7 2.0v8.8M364.5 945.1v-8.8M364.5 2.0v8.8M373.1 945.1v-8.8M373.1 2.0v8.8M380.8 945.1v-18.3M380.8 2.0v18.3M431.5 945.1v-8.8M431.5 2.0v8.8M161.8 859.1h8.8M461.1 859.1h-8.8M161.8 808.8h8.8M461.1 808.8h-8.8M161.8 773.2h8.8M461.1 773.2h-8.8M161.8 745.5h8.8M461.1 745.5h-8.8M161.8 722.9h8.8M461.1 722.9h-8.8M161.8 703.7h8.8M461.1 703.7h-8.8M161.8 687.2h8.8M461.1 687.2h-8.8M161.8 672.6h8.8M461.1 672.6h-8.8M161.8 659.5h18.3M461.1 659.5h-18.3M161.8 573.5h8.8M461.1 573.5h-8.8M161.8 523.2h8.8M461.1 523.2h-8.8M161.8 487.6h8.8M461.1 487.6h-8.8M161.8 459.9h8.8M461.1 459.9h-8.8M161.8 437.3h8.8M461.1 437.3h-8.8M161.8 418.1h8.8M461.1 418.1h-8.8M161.8 401.6h8.8M461.1 401.6h-8.8M161.8 387.0h8.8M461.1 387.0h-8.8M161.8 373.9h18.3M461.1 373.9h-18.3M161.8 287.9h8.8M461.1 287.9h-8.8M161.8 237.6h8.8M461.1 237.6h-8.8M161.8 202.0h8.8M461.1 202.0h-8.8M161.8 174.3h8.8M461.1 174.3h-8.8M161.8 151.7h8.8M461.1 151.7h-8.8M161.8 132.5h8.8M461.1 132.5h-8.8M161.8 116.0h8.8M461.1 116.0h-8.8M161.8 101.4h8.8M461.1 101.4h-8.8M161.8 88.3h18.3M461.1 88.3h-18.3" stroke="#000" stroke-width="1.9" fill="none"/>
<rect x="161.8" y="2.0" width="299.3" height="943.1" stroke="#000" stroke-width="2.0" fill="none"/>
<text transform="translate(212.5,996) scale(1,1.035)" font-size="40" text-anchor="middle">10</text>
<text transform="translate(380.8,996) scale(1,1.035)" font-size="40" text-anchor="middle">100</text>
<text x="259.0" y="1052.2" font-size="50" font-style="italic">T</text>
<text x="300.3" y="1052.2" font-size="50">(K)</text>
<path d="M549.3 945.1v-8.8M549.3 2.8v8.8M560.5 945.1v-8.8M560.5 2.8v8.8M570.3 945.1v-8.8M570.3 2.8v8.8M578.9 945.1v-8.8M578.9 2.8v8.8M586.6 945.1v-18.3M586.6 2.8v18.3M637.3 945.1v-8.8M637.3 2.8v8.8M666.9 945.1v-8.8M666.9 2.8v8.8M687.9 945.1v-8.8M687.9 2.8v8.8M704.2 945.1v-8.8M704.2 2.8v8.8M717.6 945.1v-8.8M717.6 2.8v8.8M728.8 945.1v-8.8M728.8 2.8v8.8M738.6 945.1v-8.8M738.6 2.8v8.8M747.2 945.1v-8.8M747.2 2.8v8.8M754.9 945.1v-18.3M754.9 2.8v18.3M805.6 945.1v-8.8M805.6 2.8v8.8M535.9 859.1h8.8M835.2 859.1h-8.8M535.9 808.8h8.8M835.2 808.8h-8.8M535.9 773.2h8.8M835.2 773.2h-8.8M535.9 745.5h8.8M835.2 745.5h-8.8M535.9 722.9h8.8M835.2 722.9h-8.8M535.9 703.7h8.8M835.2 703.7h-8.8M535.9 687.2h8.8M835.2 687.2h-8.8M535.9 672.6h8.8M835.2 672.6h-8.8M535.9 659.5h18.3M835.2 659.5h-18.3M535.9 573.5h8.8M835.2 573.5h-8.8M535.9 523.2h8.8M835.2 523.2h-8.8M535.9 487.6h8.8M835.2 487.6h-8.8M535.9 459.9h8.8M835.2 459.9h-8.8M535.9 437.3h8.8M835.2 437.3h-8.8M535.9 418.1h8.8M835.2 418.1h-8.8M535.9 401.6h8.8M835.2 401.6h-8.8M535.9 387.0h8.8M835.2 387.0h-8.8M535.9 373.9h18.3M835.2 373.9h-18.3M535.9 287.9h8.8M835.2 287.9h-8.8M535.9 237.6h8.8M835.2 237.6h-8.8M535.9 202.0h8.8M835.2 202.0h-8.8M535.9 174.3h8.8M835.2 174.3h-8.8M535.9 151.7h8.8M835.2 151.7h-8.8M535.9 132.5h8.8M835.2 132.5h-8.8M535.9 116.0h8.8M835.2 116.0h-8.8M535.9 101.4h8.8M835.2 101.4h-8.8M535.9 88.3h18.3M835.2 88.3h-18.3" stroke="#000" stroke-width="1.9" fill="none"/>
<rect x="535.9" y="2.8" width="299.3" height="942.3" stroke="#000" stroke-width="2.0" fill="none"/>
<text transform="translate(586.6,996) scale(1,1.035)" font-size="40" text-anchor="middle">10</text>
<text transform="translate(754.9,996) scale(1,1.035)" font-size="40" text-anchor="middle">100</text>
<text x="633.1" y="1052.2" font-size="50" font-style="italic">T</text>
<text x="674.4" y="1052.2" font-size="50">(K)</text>
<path d="M926.1 945.1v-8.8M926.1 2.9v8.8M937.3 945.1v-8.8M937.3 2.9v8.8M947.1 945.1v-8.8M947.1 2.9v8.8M955.7 945.1v-8.8M955.7 2.9v8.8M963.4 945.1v-18.3M963.4 2.9v18.3M1014.1 945.1v-8.8M1014.1 2.9v8.8M1043.7 945.1v-8.8M1043.7 2.9v8.8M1064.7 945.1v-8.8M1064.7 2.9v8.8M1081.0 945.1v-8.8M1081.0 2.9v8.8M1094.4 945.1v-8.8M1094.4 2.9v8.8M1105.6 945.1v-8.8M1105.6 2.9v8.8M1115.4 945.1v-8.8M1115.4 2.9v8.8M1124.0 945.1v-8.8M1124.0 2.9v8.8M1131.7 945.1v-18.3M1131.7 2.9v18.3M1182.4 945.1v-8.8M1182.4 2.9v8.8M912.7 859.1h8.8M1212.0 859.1h-8.8M912.7 808.8h8.8M1212.0 808.8h-8.8M912.7 773.2h8.8M1212.0 773.2h-8.8M912.7 745.5h8.8M1212.0 745.5h-8.8M912.7 722.9h8.8M1212.0 722.9h-8.8M912.7 703.7h8.8M1212.0 703.7h-8.8M912.7 687.2h8.8M1212.0 687.2h-8.8M912.7 672.6h8.8M1212.0 672.6h-8.8M912.7 659.5h18.3M1212.0 659.5h-18.3M912.7 573.5h8.8M1212.0 573.5h-8.8M912.7 523.2h8.8M1212.0 523.2h-8.8M912.7 487.6h8.8M1212.0 487.6h-8.8M912.7 459.9h8.8M1212.0 459.9h-8.8M912.7 437.3h8.8M1212.0 437.3h-8.8M912.7 418.1h8.8M1212.0 418.1h-8.8M912.7 401.6h8.8M1212.0 401.6h-8.8M912.7 387.0h8.8M1212.0 387.0h-8.8M912.7 373.9h18.3M1212.0 373.9h-18.3M912.7 287.9h8.8M1212.0 287.9h-8.8M912.7 237.6h8.8M1212.0 237.6h-8.8M912.7 202.0h8.8M1212.0 202.0h-8.8M912.7 174.3h8.8M1212.0 174.3h-8.8M912.7 151.7h8.8M1212.0 151.7h-8.8M912.7 132.5h8.8M1212.0 132.5h-8.8M912.7 116.0h8.8M1212.0 116.0h-8.8M912.7 101.4h8.8M1212.0 101.4h-8.8M912.7 88.3h18.3M1212.0 88.3h-18.3" stroke="#000" stroke-width="1.9" fill="none"/>
<rect x="912.7" y="2.9" width="299.3" height="942.2" stroke="#000" stroke-width="2.0" fill="none"/>
<text transform="translate(963.4,996) scale(1,1.035)" font-size="40" text-anchor="middle">10</text>
<text transform="translate(1131.7,996) scale(1,1.035)" font-size="40" text-anchor="middle">100</text>
<text x="1009.9" y="1052.2" font-size="50" font-style="italic">T</text>
<text x="1051.2" y="1052.2" font-size="50">(K)</text>
<path d="M1307.2 945.1v-8.8M1307.2 2.8v8.8M1318.4 945.1v-8.8M1318.4 2.8v8.8M1328.2 945.1v-8.8M1328.2 2.8v8.8M1336.8 945.1v-8.8M1336.8 2.8v8.8M1344.5 945.1v-18.3M1344.5 2.8v18.3M1395.2 945.1v-8.8M1395.2 2.8v8.8M1424.8 945.1v-8.8M1424.8 2.8v8.8M1445.8 945.1v-8.8M1445.8 2.8v8.8M1462.1 945.1v-8.8M1462.1 2.8v8.8M1475.5 945.1v-8.8M1475.5 2.8v8.8M1486.7 945.1v-8.8M1486.7 2.8v8.8M1496.5 945.1v-8.8M1496.5 2.8v8.8M1505.1 945.1v-8.8M1505.1 2.8v8.8M1512.8 945.1v-18.3M1512.8 2.8v18.3M1563.5 945.1v-8.8M1563.5 2.8v8.8M1293.8 859.1h8.8M1593.1 859.1h-8.8M1293.8 808.8h8.8M1593.1 808.8h-8.8M1293.8 773.2h8.8M1593.1 773.2h-8.8M1293.8 745.5h8.8M1593.1 745.5h-8.8M1293.8 722.9h8.8M1593.1 722.9h-8.8M1293.8 703.7h8.8M1593.1 703.7h-8.8M1293.8 687.2h8.8M1593.1 687.2h-8.8M1293.8 672.6h8.8M1593.1 672.6h-8.8M1293.8 659.5h18.3M1593.1 659.5h-18.3M1293.8 573.5h8.8M1593.1 573.5h-8.8M1293.8 523.2h8.8M1593.1 523.2h-8.8M1293.8 487.6h8.8M1593.1 487.6h-8.8M1293.8 459.9h8.8M1593.1 459.9h-8.8M1293.8 437.3h8.8M1593.1 437.3h-8.8M1293.8 418.1h8.8M1593.1 418.1h-8.8M1293.8 401.6h8.8M1593.1 401.6h-8.8M1293.8 387.0h8.8M1593.1 387.0h-8.8M1293.8 373.9h18.3M1593.1 373.9h-18.3M1293.8 287.9h8.8M1593.1 287.9h-8.8M1293.8 237.6h8.8M1593.1 237.6h-8.8M1293.8 202.0h8.8M1593.1 202.0h-8.8M1293.8 174.3h8.8M1593.1 174.3h-8.8M1293.8 151.7h8.8M1593.1 151.7h-8.8M1293.8 132.5h8.8M1593.1 132.5h-8.8M1293.8 116.0h8.8M1593.1 116.0h-8.8M1293.8 101.4h8.8M1593.1 101.4h-8.8M1293.8 88.3h18.3M1593.1 88.3h-18.3" stroke="#000" stroke-width="1.9" fill="none"/>
<rect x="1293.8" y="2.8" width="299.3" height="942.3" stroke="#000" stroke-width="2.0" fill="none"/>
<text transform="translate(1344.5,996) scale(1,1.035)" font-size="40" text-anchor="middle">10</text>
<text transform="translate(1512.8,996) scale(1,1.035)" font-size="40" text-anchor="middle">100</text>
<text x="1391.0" y="1052.2" font-size="50" font-style="italic">T</text>
<text x="1432.3" y="1052.2" font-size="50">(K)</text>
<text transform="translate(142,100.3) scale(1,1.035)" font-size="40" text-anchor="end">0.1</text>
<text transform="translate(142,385.9) scale(1,1.035)" font-size="40" text-anchor="end">0.01</text>
<text transform="translate(142,671.5) scale(1,1.035)" font-size="40" text-anchor="end">0.001</text>
<text transform="translate(142,957.1) scale(1,1.035)" font-size="40" text-anchor="end">1E-4</text>
<text transform="translate(43.4,532.3) rotate(-90)" font-size="50"><tspan font-style="italic">R</tspan> <tspan dx="-2.2">(</tspan><tspan class="sf" font-size="52">Ω</tspan>)</text>
<path d="M179.3 97.0H266" stroke="#dc5a96" stroke-width="4"/>
<text x="276.5" y="111.2" font-size="39">I//a<tspan font-size="25" dy="9.8">1</tspan></text>
<path d="M179.3 153.4H266" stroke="#e8804a" stroke-width="4"/>
<text x="276.5" y="167.6" font-size="39">I//a<tspan font-size="25" dy="9.8">2</tspan></text>
<path d="M179.3 209.8H266" stroke="#0e8aca" stroke-width="4"/>
<text x="276.5" y="224.0" font-size="39">I//a<tspan font-size="25" dy="9.8">3</tspan></text>
<text x="181.4" y="64.5" font-size="40">S1-MEM</text>
<text x="578.0" y="70.4" font-size="40">S2-Hex1</text>
<text x="578.3" y="119.7" font-size="40">Strained</text>
<text x="942.5" y="66.9" font-size="40">S3-Hex2</text>
<text x="942.3" y="115.8" font-size="40">Glue droplet</text>
<text x="942.3" y="164.7" font-size="40">on top</text>
<text x="1320.5" y="70.4" font-size="40">S4-MEM</text>
<text x="230.8" y="825.2" font-size="40">d = 5 <tspan class="sf" dx="1.5">μ</tspan><tspan dx="1.5">m</tspan></text>
<text x="231.9" y="879.1" font-size="40">t = 2.4 <tspan class="sf" dx="1.5">μ</tspan><tspan dx="1.5">m</tspan></text>
<text x="611.8" y="832.2" font-size="40">d = 8.5 <tspan class="sf" dx="1.5">μ</tspan><tspan dx="1.5">m</tspan></text>
<text x="612.5" y="885.6" font-size="40">t = 3.2 <tspan class="sf" dx="1.5">μ</tspan><tspan dx="1.5">m</tspan></text>
<text x="982.1" y="829.0" font-size="40">d = 8.5 <tspan class="sf" dx="1.5">μ</tspan><tspan dx="1.5">m</tspan></text>
<text x="983.2" y="882.8" font-size="40">t = 2.8 <tspan class="sf" dx="1.5">μ</tspan><tspan dx="1.5">m</tspan></text>
<text x="1388.6" y="830.4" font-size="40">d = 8.5 <tspan class="sf" dx="0.3">μ</tspan><tspan dx="0.3">m</tspan></text>
<text x="1389.7" y="884.2" font-size="40">t = 3.9 <tspan class="sf" dx="1.5">μ</tspan><tspan dx="1.5">m</tspan></text>
<g fill="#fff"><rect x="192.31" y="990.63" width="7.81" height="7.23"/><rect x="204.05" y="990.63" width="7.50" height="7.23"/><rect x="349.49" y="990.63" width="7.81" height="7.23"/><rect x="361.24" y="990.63" width="7.50" height="7.23"/><rect x="566.41" y="990.63" width="7.81" height="7.23"/><rect x="578.15" y="990.63" width="7.50" height="7.23"/><rect x="723.59" y="990.63" width="7.81" height="7.23"/><rect x="735.34" y="990.63" width="7.50" height="7.23"/><rect x="943.21" y="990.63" width="7.81" height="7.23"/><rect x="954.95" y="990.63" width="7.50" height="7.23"/><rect x="1100.39" y="990.63" width="7.81" height="7.23"/><rect x="1112.14" y="990.63" width="7.50" height="7.23"/><rect x="1324.31" y="990.63" width="7.81" height="7.23"/><rect x="1336.05" y="990.63" width="7.50" height="7.23"/><rect x="1481.49" y="990.63" width="7.81" height="7.23"/><rect x="1493.24" y="990.63" width="7.50" height="7.23"/><rect x="121.80" y="94.93" width="7.81" height="7.23"/><rect x="133.55" y="94.93" width="7.50" height="7.23"/><rect x="121.78" y="380.53" width="7.81" height="7.23"/><rect x="133.53" y="380.53" width="7.50" height="7.23"/><rect x="121.80" y="666.13" width="7.81" height="7.23"/><rect x="133.55" y="666.13" width="7.50" height="7.23"/><rect x="59.58" y="951.73" width="7.81" height="7.23"/><rect x="71.33" y="951.73" width="7.50" height="7.23"/><rect x="331.61" y="116.93" width="5.18" height="5.87"/><rect x="339.40" y="116.93" width="4.99" height="5.87"/><rect x="210.12" y="59.31" width="7.81" height="6.99"/><rect x="221.87" y="59.31" width="7.50" height="6.99"/><rect x="713.42" y="65.21" width="7.81" height="6.99"/><rect x="725.17" y="65.21" width="7.50" height="6.99"/></g></svg></body></html>
